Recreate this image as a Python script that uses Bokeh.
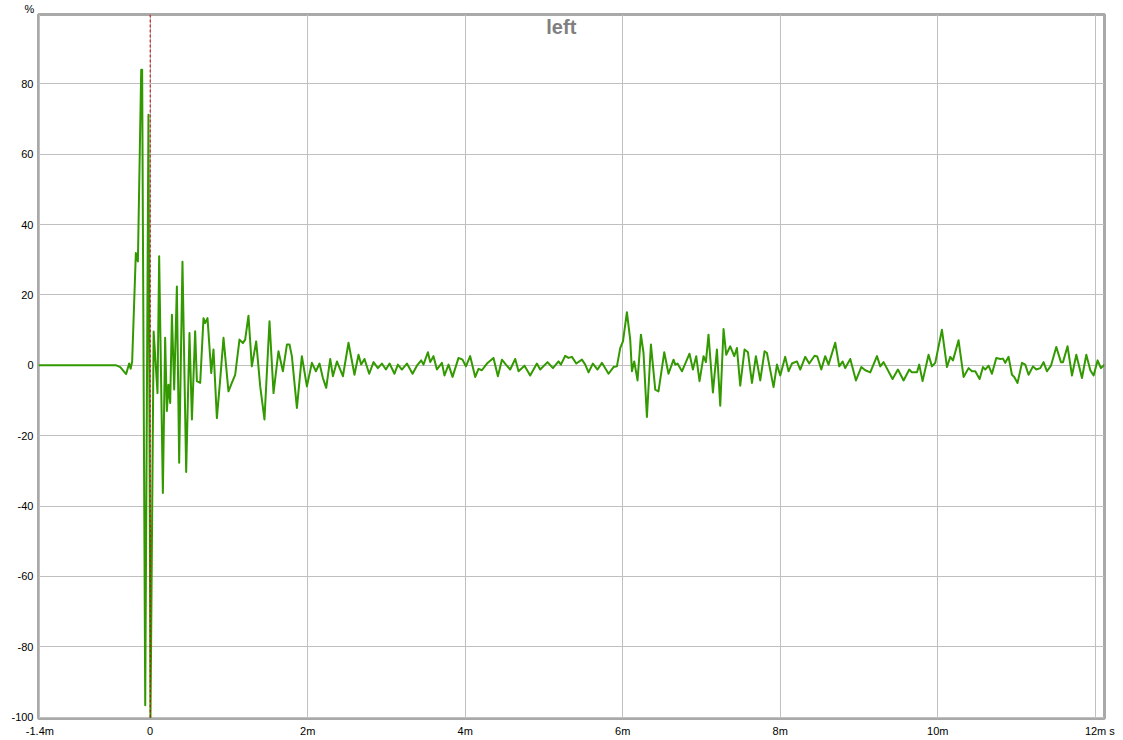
from bokeh.plotting import figure
from bokeh.models import FixedTicker, Span, Label, Range1d, Title
from bokeh.embed import file_html
from bokeh.resources import INLINE

# ---- data (time in ms, level in %) ----
time_ms = [
    -1.418, -0.43, -0.38, -0.305, -0.267, -0.248, -0.229, -0.182, -0.156, -0.114,
    -0.102, -0.063, -0.022, 0.004,
    0.044, 0.093, 0.114, 0.161, 0.190, 0.212, 0.232, 0.254, 0.276, 0.305,
    0.339, 0.368, 0.410, 0.457, 0.499, 0.530, 0.571, 0.593, 0.635, 0.677,
    0.698, 0.728, 0.775, 0.804, 0.847, 0.889, 0.931, 0.994, 1.037, 1.079,
    1.134, 1.177, 1.206, 1.248, 1.291, 1.346, 1.397, 1.451, 1.515, 1.566,
    1.629, 1.685, 1.736, 1.769, 1.799, 1.863, 1.926, 1.990, 2.053, 2.104,
    2.150, 2.193, 2.235, 2.286, 2.320, 2.371, 2.447, 2.518, 2.594, 2.645,
    2.679, 2.721, 2.781, 2.836, 2.891, 2.942, 2.993, 3.039, 3.102, 3.145,
    3.196, 3.260, 3.331, 3.387, 3.441, 3.470, 3.526, 3.556, 3.597, 3.641,
    3.704, 3.737, 3.788, 3.839, 3.915, 3.966, 4.009, 4.063, 4.127, 4.169,
    4.212, 4.276, 4.359, 4.415, 4.466, 4.517, 4.571, 4.635, 4.677, 4.753,
    4.825, 4.910, 4.952, 5.045, 5.114, 5.185, 5.215, 5.270, 5.312, 5.355,
    5.410, 5.482, 5.524, 5.566, 5.621, 5.680, 5.736, 5.820, 5.883, 5.926,
    5.968, 6.003, 6.053, 6.095, 6.117, 6.146, 6.188, 6.231, 6.264, 6.307,
    6.358, 6.413, 6.454, 6.527, 6.581, 6.645, 6.667, 6.696, 6.752, 6.848,
    6.891, 6.933, 6.975, 7.026, 7.056, 7.089, 7.145, 7.196, 7.238, 7.280,
    7.314, 7.365, 7.416, 7.450, 7.492, 7.547, 7.590, 7.641, 7.691, 7.746,
    7.801, 7.831, 7.915, 7.958, 8.000, 8.063, 8.105, 8.148, 8.212, 8.254,
    8.317, 8.368, 8.436, 8.470, 8.521, 8.571, 8.613, 8.698, 8.749, 8.791,
    8.825, 8.889, 8.961, 9.029, 9.079, 9.143, 9.228, 9.270, 9.312, 9.426,
    9.494, 9.566, 9.638, 9.672, 9.736, 9.765, 9.807, 9.883, 9.926, 9.968,
    10.053, 10.117, 10.159, 10.193, 10.264, 10.328, 10.391, 10.434, 10.476, 10.531,
    10.574, 10.603, 10.645, 10.688, 10.743, 10.794, 10.828, 10.857, 10.899, 10.942,
    10.971, 11.013, 11.069, 11.111, 11.153, 11.209, 11.251, 11.302, 11.343, 11.387,
    11.437, 11.505, 11.564, 11.590, 11.648, 11.704, 11.759, 11.831, 11.886, 11.937,
    11.979, 12.029, 12.072, 12.117,
]
level_pct = [
    0.0, 0.0, -0.5, -2.5, 0.5, -1.0, 1.0, 31.9, 29.5, 84.0,
    84.0, -96.6, 71.2, -100.0,
    9.6, -7.9, 31.0, -36.3, 7.8, -13.0, -5.5, -10.7, 14.4, -6.9,
    22.4, -27.7, 29.4, -30.3, 9.2, -15.4, 9.7, -4.5, -5.0, 13.4,
    12.0, 13.4, -2.2, 4.5, -15.0, -4.0, 7.8, -7.4, -5.0, -2.7,
    7.3, 6.3, 7.3, 14.1, -0.3, 6.8, -6.0, -15.4, 12.5, -7.9,
    4.0, -1.7, 5.9, 5.9, 2.6, -12.1, 2.6, -6.0, 0.7, -1.7,
    0.5, -3.6, -6.4, 1.8, -3.1, 1.1, -3.1, 6.4, -2.7, 3.0,
    0.2, 1.8, -2.4, 0.9, -0.8, 0.5, -1.2, 0.5, -2.4, 0.2,
    -1.2, 0.5, -2.4, -0.1, 1.4, 0.2, 3.7, 0.9, 2.6, -1.2,
    0.7, -2.9, 0.2, -3.3, 2.1, 1.6, -0.3, 2.6, -3.3, -1.0,
    -1.4, 0.5, 2.1, -3.1, 1.6, 0.2, -1.2, 1.8, -1.7, -0.1,
    -2.9, 0.5, -1.2, 0.9, -0.8, 1.1, 0.2, 2.7, 2.1, 2.4,
    0.5, 1.6, 0.2, -2.0, 0.5, -1.2, 0.7, -2.4, -0.5, -0.3,
    4.9, 6.8, 15.1, 7.3, -1.7, 1.1, -4.3, 8.7, 3.5, -14.7,
    5.9, -6.9, -7.4, 3.7, -2.4, 1.6, 0.2, 0.5, -1.7, 3.3,
    -1.2, 2.6, -4.5, 2.6, 0.9, 8.7, -7.7, 4.5, -11.5, 10.3,
    3.0, 5.4, 2.6, 4.9, -5.8, 4.5, 3.7, -5.0, 2.6, -4.3,
    4.0, 3.5, -6.2, 0.2, -2.9, 2.4, -1.7, 0.5, 1.1, -1.2,
    2.4, 0.5, 2.7, 2.5, -1.2, 2.6, 0.2, 6.4, -0.3, 1.1,
    -0.8, 1.8, -4.3, -0.5, -1.4, -2.0, 2.6, -0.3, 0.9, -3.9,
    -1.2, -4.3, -1.2, -2.0, -2.0, 0.2, -4.5, 3.0, -0.3, 0.7,
    10.1, -0.5, 2.4, 1.4, 7.1, -3.3, -0.8, -1.7, -1.7, -3.9,
    -0.5, -1.2, -0.1, -2.4, 2.1, 1.8, 1.9, 0.7, 2.4, -2.7,
    -3.3, -5.0, 0.7, 0.2, -2.7, -0.3, -1.2, -0.8, 0.9, -1.7,
    -0.1, 5.2, 0.9, 0.9, 5.4, -2.9, 3.0, -3.6, 3.0, -1.4,
    -2.9, 1.4, -0.8, 0.2,
]

x_tick_values = [-1.4, 0, 2, 4, 6, 8, 10, 12]
x_tick_labels = ["-1.4m", "0", "2m", "4m", "6m", "8m", "10m", "12m"]
y_tick_values = [-100, -80, -60, -40, -20, 0, 20, 40, 60, 80]
y_tick_labels = ["-100", "-80", "-60", "-40", "-20", "0", "20", "40", "60", "80"]
title_text = "left"
y_unit = "%"
x_unit = "s"
title_pos = (5.22, 96.0)

FONT = "Liberation Sans"
NB = "\u00a0"

p = figure(
    width=1122, height=739,
    x_range=Range1d(-1.418, 12.117), y_range=Range1d(-100.37, 99.69),
    output_backend="svg", toolbar_location=None,
    min_border_left=38, min_border_right=18, min_border_top=13, min_border_bottom=21,
    background_fill_color="white", border_fill_color="white",
)

p.outline_line_color = "#a9a9a9"
p.outline_line_width = 3

for ax in (p.xaxis, p.yaxis):
    ax.axis_line_color = None
    ax.major_tick_line_color = None
    ax.minor_tick_line_color = None
    ax.major_tick_in = 0
    ax.major_tick_out = 0
    ax.axis_label_standoff = 0
    ax.major_label_text_font = FONT
    ax.major_label_text_font_size = "11px"
    ax.major_label_text_color = "#000000"

# x labels: the unit "s" follows the last tick label
x_overrides = {v: l for v, l in zip(x_tick_values, x_tick_labels)}
x_overrides[x_tick_values[-1]] = NB * 3 + x_tick_labels[-1] + NB + x_unit
p.xaxis.ticker = FixedTicker(ticks=x_tick_values)
p.xaxis.major_label_overrides = x_overrides
p.xaxis.major_label_standoff = 6

p.yaxis.ticker = FixedTicker(ticks=y_tick_values)
p.yaxis.major_label_overrides = {v: l for v, l in zip(y_tick_values, y_tick_labels)}
p.yaxis.major_label_standoff = 5

p.xgrid.ticker = FixedTicker(ticks=x_tick_values)
p.ygrid.ticker = FixedTicker(ticks=y_tick_values)
for g in (p.xgrid, p.ygrid):
    g.grid_line_color = "#c0c0c0"
    g.grid_line_width = 1

p.line(time_ms, level_pct, line_color="#339900", line_width=2, line_join="round")

p.add_layout(Span(location=0, dimension="height", line_color="#cc0000",
                  line_dash="3 2", line_width=1))

p.add_layout(Label(x=title_pos[0], y=title_pos[1], text=title_text,
                   text_font=FONT, text_font_size="20px", text_font_style="bold",
                   text_color="#808080", text_align="center", text_baseline="alphabetic"))

# unit of the value axis, above the top-left corner
p.add_layout(Title(text=y_unit, align="left", offset=-14, standoff=0,
                   text_font=FONT, text_font_size="11px", text_font_style="normal",
                   text_color="#000000"), "above")

open("out.html", "w").write(file_html(p, INLINE))
